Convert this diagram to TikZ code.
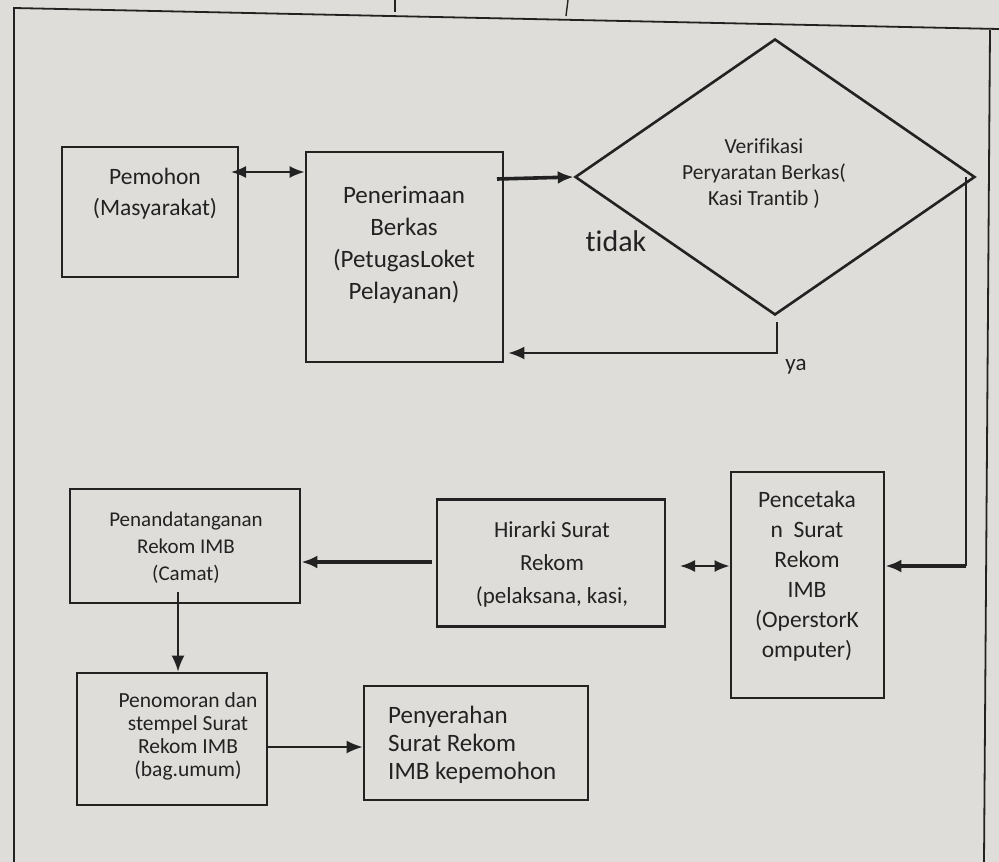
\documentclass[tikz,border=0pt]{standalone}
\usepackage{fontspec}
\setmainfont[Ligatures=NoCommon]{Carlito}
\usetikzlibrary{arrows.meta,shapes.geometric,calc}
\definecolor{paper}{HTML}{DEDDD9}
\definecolor{ink}{HTML}{222222}
\begin{document}
\begin{tikzpicture}[x=1pt,y=-1pt,
  boxnode/.style={draw=ink,line width=2.8pt,minimum width=#1,inner sep=0pt},
  txt/.style={text=ink,align=center,inner sep=0pt},
  thin/.style={draw=ink,line width=2pt},
  thick/.style={draw=ink,line width=3.6pt},
  tip/.style={-{Latex[length=16pt,width=13pt]}},
  dtip/.style={{Latex[length=15pt,width=12pt]}-{Latex[length=15pt,width=12pt]}}
]
\fill[paper] (0,0) rectangle (999,862);
\useasboundingbox (0,0) rectangle (999,862);
% outer frame
\draw[ink,line width=1.8pt] (14,862) -- (14,8) -- (999,29);
\draw[ink,line width=1.8pt] (990,30) -- (984,862);
\draw[ink,line width=1.4pt] (395,0) -- (395,12);
\draw[ink,line width=1.4pt] (568,0) -- (566,16);

% boxes
\node[boxnode=176pt,minimum height=130pt] (pem) at (150,212) {};
\node[txt,font=\fontsize{23.5}{31}\selectfont] (pemT) at (155,194) {Pemohon\\(Masyarakat)};

\node[boxnode=197pt,minimum height=210pt] (pen) at (404.5,257) {};
\node[txt,font=\fontsize{25}{32}\selectfont] (penT) at (404,245) {Penerimaan\\Berkas\\(PetugasLoket\\Pelayanan)};

\node[draw=ink,line width=2.6pt,diamond,minimum width=400pt,minimum height=276pt,inner sep=0pt] (dia) at (775,177) {};
\node[txt,font=\fontsize{21.5}{26}\selectfont] (diaT) at (764,174) {Verifikasi\\Peryaratan Berkas(\\Kasi Trantib )};

\node[text=ink,inner sep=0pt,font=\fontsize{30}{32}\selectfont] (tidak) at (616,241) {tidak};
\node[text=ink,inner sep=0pt,font=\fontsize{23}{26}\selectfont] (ya) at (796,367) {ya};

\node[boxnode=153pt,minimum height=226pt] (pce) at (807.5,585) {};
\node[txt,font=\fontsize{23.5}{30}\selectfont] (pceT) at (807,576) {Pencetaka\\n~ Surat\\Rekom\\IMB\\(OperstorK\\omputer)};

\node[boxnode=228pt,minimum height=127pt] (hir) at (551,563) {};
\node[txt,font=\fontsize{23}{33}\selectfont] (hirT) at (552,564) {Hirarki Surat\\Rekom\\(pelaksana, kasi,};

\node[boxnode=230pt,minimum height=114pt] (pnd) at (185,546) {};
\node[txt,font=\fontsize{21}{27}\selectfont] (pndT) at (186,548) {Penandatanganan\\Rekom IMB\\(Camat)};

\node[boxnode=190pt,minimum height=132pt] (pnm) at (172,739) {};
\node[txt,font=\fontsize{21.5}{23}\selectfont] (pnmT) at (188,736) {Penomoran dan\\stempel Surat\\Rekom IMB\\(bag.umum)};

\node[boxnode=224pt,minimum height=114pt] (pny) at (476,743) {};
\node[text=ink,align=left,inner sep=0pt,anchor=west,font=\fontsize{25}{28}\selectfont] (pnyT) at (388,745) {Penyerahan\\Surat Rekom\\IMB kepemohon};

% connectors
\coordinate (c1) at (231,172);
\draw[thin,dtip] (c1) -- (c1 -| pen.west);

\coordinate (c2) at (497,179);
\draw[thick,tip] (c2) -- (dia.west);

\coordinate (c3) at (777,322);
\coordinate (c4) at (777,353);
\draw[thin,tip] (c3) -- (c4) -- ([xshift=4pt]c4 -| pen.east);

\coordinate (c5) at (966,566);
\draw[thin] (dia.east -| c5) -- (c5);
\draw[thick,tip] (c5) -- (c5 -| pce.east);

\coordinate (c6) at (680,566);
\draw[thin,dtip] (c6) -- (c6 -| pce.west);

\coordinate (c7) at (432,562);
\draw[thick,tip] (c7) -- (c7 -| pnd.east);

\coordinate (c8) at (178,592);
\draw[thin,tip] (c8) -- (c8 |- pnm.north);

\coordinate (c9) at (267,747);
\draw[thin,tip] (c9) -- (c9 -| pny.west);
\end{tikzpicture}
\end{document}
